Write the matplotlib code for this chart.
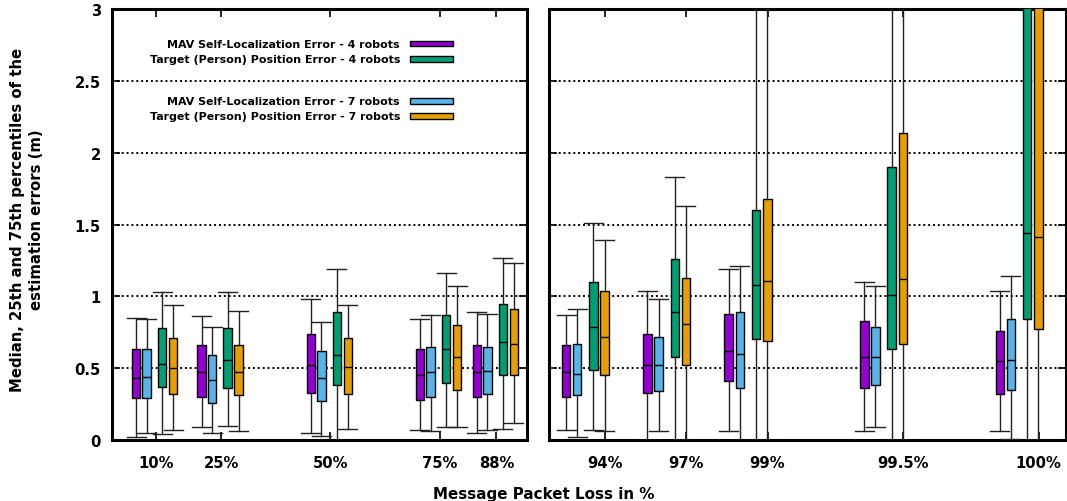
import matplotlib
matplotlib.use("Agg")
import matplotlib.pyplot as plt
from matplotlib.patches import Rectangle

# packet loss levels, left panel and right panel
left_loss = [10, 25, 50, 75, 88]
left_labels = ['10%', '25%', '50%', '75%', '88%']
right_pos = [94, 97, 100, 105, 110]
right_labels = ['94%', '97%', '99%', '99.5%', '100%']

series_names = ['MAV Self-Localization Error - 4 robots',
                'MAV Self-Localization Error - 7 robots',
                'Target (Person) Position Error - 4 robots',
                'Target (Person) Position Error - 7 robots']
colors = ['#9400d3', '#56b4e9', '#009e73', '#e69f00']

# stats per series, 10 groups (5 left, 5 right)
mav4_lo = [0.02, 0.09, 0.05, 0.07, 0.05, 0.07, 0.00, 0.06, 0.06, 0.06]
mav4_q1 = [0.29, 0.30, 0.33, 0.28, 0.30, 0.30, 0.33, 0.41, 0.36, 0.32]
mav4_med = [0.43, 0.47, 0.52, 0.45, 0.47, 0.47, 0.52, 0.62, 0.58, 0.55]
mav4_q3 = [0.63, 0.66, 0.74, 0.63, 0.66, 0.66, 0.74, 0.88, 0.83, 0.76]
mav4_hi = [0.85, 0.86, 0.98, 0.84, 0.89, 0.87, 1.04, 1.19, 1.10, 1.04]

mav7_lo = [0.05, 0.05, 0.03, 0.06, 0.07, 0.02, 0.06, 0.00, 0.09, 0.01]
mav7_q1 = [0.29, 0.26, 0.27, 0.30, 0.32, 0.31, 0.34, 0.36, 0.38, 0.35]
mav7_med = [0.44, 0.42, 0.43, 0.47, 0.48, 0.46, 0.52, 0.60, 0.58, 0.56]
mav7_q3 = [0.63, 0.59, 0.62, 0.65, 0.65, 0.67, 0.72, 0.89, 0.79, 0.84]
mav7_hi = [0.84, 0.79, 0.82, 0.87, 0.88, 0.91, 0.98, 1.21, 1.07, 1.14]

tgt4_lo = [0.04, 0.10, 0.00, 0.09, 0.08, 0.07, 0.00, 0.00, 0.00, 0.00]
tgt4_q1 = [0.37, 0.36, 0.38, 0.40, 0.45, 0.49, 0.58, 0.70, 0.63, 0.84]
tgt4_med = [0.53, 0.56, 0.59, 0.63, 0.68, 0.79, 0.89, 1.08, 1.01, 1.44]
tgt4_q3 = [0.78, 0.78, 0.89, 0.87, 0.95, 1.10, 1.26, 1.60, 1.90, 3.40]
tgt4_hi = [1.03, 1.03, 1.19, 1.16, 1.27, 1.51, 1.83, 3.50, 3.60, 4.00]

tgt7_lo = [0.07, 0.06, 0.08, 0.09, 0.12, 0.06, 0.00, 0.00, 0.00, 0.00]
tgt7_q1 = [0.32, 0.31, 0.32, 0.35, 0.45, 0.45, 0.52, 0.69, 0.67, 0.77]
tgt7_med = [0.50, 0.47, 0.51, 0.58, 0.67, 0.72, 0.81, 1.11, 1.12, 1.41]
tgt7_q3 = [0.71, 0.66, 0.71, 0.80, 0.91, 1.04, 1.13, 1.68, 2.14, 3.50]
tgt7_hi = [0.94, 0.90, 0.94, 1.07, 1.23, 1.39, 1.63, 3.60, 3.70, 4.20]

stats = [
    (mav4_lo, mav4_q1, mav4_med, mav4_q3, mav4_hi),
    (mav7_lo, mav7_q1, mav7_med, mav7_q3, mav7_hi),
    (tgt4_lo, tgt4_q1, tgt4_med, tgt4_q3, tgt4_hi),
    (tgt7_lo, tgt7_q1, tgt7_med, tgt7_q3, tgt7_hi),
]

plt.rcParams['font.family'] = 'DejaVu Sans'
plt.rcParams['font.weight'] = 'bold'

fig = plt.figure(figsize=(10.67, 5.02), dpi=100)
ax1 = fig.add_axes([112 / 1067, 61 / 502, 415 / 1067, 431 / 502])
ax2 = fig.add_axes([549.3 / 1067, 61 / 502, 516.4 / 1067, 431 / 502])

# box offsets / widths per panel (data units)
panels = [
    (ax1, left_loss, left_labels, slice(0, 5), [-4.5, -2.06, 1.49, 4.0], 1.95, 4.35, (0, 95)),
    (ax2, right_pos, right_labels, slice(5, 10), [-1.43, -1.02, -0.42, -0.01], 0.315, 0.70, (91.95, 111)),
]

for ax, xs, labels, sl, offs, bw, cw, xlim in panels:
    for k, (lo, q1, med, q3, hi) in enumerate(stats):
        bx = []
        for a, b, c, d, e in zip(lo[sl], q1[sl], med[sl], q3[sl], hi[sl]):
            bx.append({'whislo': a, 'q1': b, 'med': c, 'q3': d, 'whishi': e, 'fliers': []})
        ax.bxp(bx, positions=[x + offs[k] for x in xs], widths=bw, capwidths=cw,
               patch_artist=True, showfliers=False, manage_ticks=False,
               boxprops=dict(facecolor=colors[k], edgecolor='black', linewidth=1.0),
               medianprops=dict(color='black', linewidth=1.0),
               whiskerprops=dict(color='#222222', linewidth=1.0),
               capprops=dict(color='#222222', linewidth=1.0), zorder=3)
    ax.set_xlim(*xlim)
    ax.set_ylim(0, 3)
    ax.set_xticks(xs)
    ax.set_xticklabels(labels)
    ax.set_yticks([0, 0.5, 1, 1.5, 2, 2.5, 3])
    ax.yaxis.grid(True, color='black', linestyle=(0, (1, 1.5)), linewidth=1.4)
    ax.set_axisbelow(True)
    ax.tick_params(direction='in', length=6, width=1.2, top=True, right=True,
                   labelsize=10.6)
    ax.tick_params(axis='x', pad=11)
    ax.tick_params(axis='y', pad=8)
    for s in ax.spines.values():
        s.set_linewidth(2.2)

ax1.set_yticklabels(['0', '0.5', '1', '1.5', '2', '2.5', '3'])
ax2.tick_params(labelleft=False)

# legend blocks drawn inside the left panel
leg_rows = [0.9195, 0.884, 0.7865, 0.7515]
leg_order = [0, 2, 1, 3]
for yy, k in zip(leg_rows, leg_order):
    ax1.text(0.694, yy, series_names[k], transform=ax1.transAxes, ha='right',
             va='center', fontsize=7.9, fontweight='bold')
    ax1.add_patch(Rectangle((0.718, yy - 0.0065), 0.104, 0.013, transform=ax1.transAxes,
                            facecolor=colors[k], edgecolor='black', linewidth=1.0,
                            zorder=5))

fig.text(543.8 / 1067, 1 - 495 / 502, 'Message Packet Loss in %', ha='center',
         va='center', fontsize=10.9, fontweight='bold')
fig.text(27 / 1067, 1 - 220 / 502,
         'Median, 25th and 75th percentiles of the\nestimation errors (m)',
         rotation=90, ha='center', va='center', multialignment='center',
         fontsize=10.7, fontweight='bold', linespacing=1.35)

fig.savefig('out.png', dpi=100)
